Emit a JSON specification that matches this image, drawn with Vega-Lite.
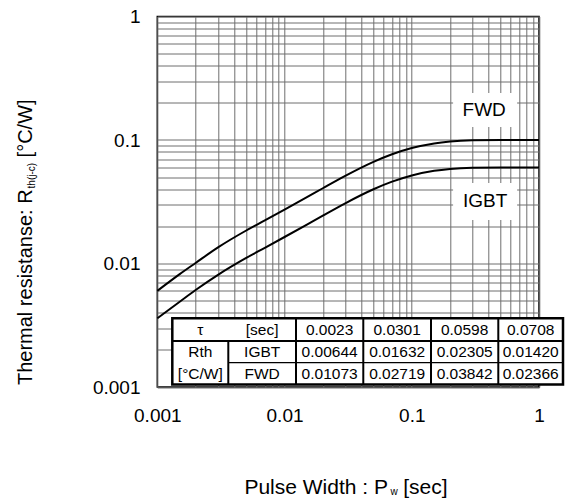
{
  "$schema": "https://vega.github.io/schema/vega-lite/v6.json",
  "width": 381.7,
  "height": 370.5,
  "autosize": {"type": "none"},
  "padding": {"left": 157.3, "top": 16.5, "right": 29, "bottom": 116},
  "background": "white",
  "config": {
    "font": "Liberation Sans",
    "view": {"stroke": "black", "strokeWidth": 1.5},
    "text": {"font": "Liberation Sans", "color": "black"}
  },
  "datasets": {
    "curves": [
      {"series": "IGBT", "x": 0.001, "y": 0.0036},
      {"series": "IGBT", "x": 0.0015, "y": 0.0049},
      {"series": "IGBT", "x": 0.002, "y": 0.0061},
      {"series": "IGBT", "x": 0.003, "y": 0.0081},
      {"series": "IGBT", "x": 0.005, "y": 0.0111},
      {"series": "IGBT", "x": 0.007, "y": 0.0134},
      {"series": "IGBT", "x": 0.01, "y": 0.01639},
      {"series": "IGBT", "x": 0.015, "y": 0.02066},
      {"series": "IGBT", "x": 0.02, "y": 0.02441},
      {"series": "IGBT", "x": 0.03, "y": 0.03073},
      {"series": "IGBT", "x": 0.05, "y": 0.03991},
      {"series": "IGBT", "x": 0.07, "y": 0.04598},
      {"series": "IGBT", "x": 0.1, "y": 0.05163},
      {"series": "IGBT", "x": 0.15, "y": 0.05631},
      {"series": "IGBT", "x": 0.2, "y": 0.05833},
      {"series": "IGBT", "x": 0.3, "y": 0.05965},
      {"series": "IGBT", "x": 0.5, "y": 0.06},
      {"series": "IGBT", "x": 0.7, "y": 0.06001},
      {"series": "IGBT", "x": 1, "y": 0.06001},
      {"series": "FWD", "x": 0.001, "y": 0.006},
      {"series": "FWD", "x": 0.0015, "y": 0.0082},
      {"series": "FWD", "x": 0.002, "y": 0.0101},
      {"series": "FWD", "x": 0.003, "y": 0.0135},
      {"series": "FWD", "x": 0.005, "y": 0.0185},
      {"series": "FWD", "x": 0.007, "y": 0.022332},
      {"series": "FWD", "x": 0.01, "y": 0.027313},
      {"series": "FWD", "x": 0.015, "y": 0.034423},
      {"series": "FWD", "x": 0.02, "y": 0.040675},
      {"series": "FWD", "x": 0.03, "y": 0.051212},
      {"series": "FWD", "x": 0.05, "y": 0.066508},
      {"series": "FWD", "x": 0.07, "y": 0.076619},
      {"series": "FWD", "x": 0.1, "y": 0.086037},
      {"series": "FWD", "x": 0.15, "y": 0.093838},
      {"series": "FWD", "x": 0.2, "y": 0.097204},
      {"series": "FWD", "x": 0.3, "y": 0.0994},
      {"series": "FWD", "x": 0.5, "y": 0.099974},
      {"series": "FWD", "x": 0.7, "y": 0.1},
      {"series": "FWD", "x": 1, "y": 0.1}
    ],
    "labelBoxes": [
      {"x": 0.2113, "x2": 0.673, "y": 0.2404, "y2": 0.1274},
      {"x": 0.2113, "x2": 0.673, "y": 0.04487, "y2": 0.0225}
    ],
    "labels": [
      {"x": 0.371, "y": 0.175, "t": "FWD"},
      {"x": 0.377, "y": 0.0321, "t": "IGBT"}
    ],
    "tableBox": [
      {"x": 0.001312, "x2": 1.544, "y": 0.001047, "y2": 0.003599}
    ],
    "thickLines": [
      {"x": 0.001312, "x2": 1.544, "y": 0.002358, "y2": 0.002358},
      {"x": 0.003614, "x2": 0.003614, "y": 0.001047, "y2": 0.002358},
      {"x": 0.01231, "x2": 0.01231, "y": 0.001047, "y2": 0.003599},
      {"x": 0.04159, "x2": 0.04159, "y": 0.001047, "y2": 0.003599},
      {"x": 0.1416, "x2": 0.1416, "y": 0.001047, "y2": 0.003599},
      {"x": 0.4787, "x2": 0.4787, "y": 0.001047, "y2": 0.003599}
    ],
    "thinLines": [
      {"x": 0.003614, "x2": 1.544, "y": 0.001573, "y2": 0.001573}
    ],
    "tableText": [
      {"x": 0.002178, "y": 0.002912, "t": "τ"},
      {"x": 0.006669, "y": 0.002912, "t": "[sec]"},
      {"x": 0.02262, "y": 0.002912, "t": "0.0023"},
      {"x": 0.07677, "y": 0.002912, "t": "0.0301"},
      {"x": 0.2604, "y": 0.002912, "t": "0.0598"},
      {"x": 0.8602, "y": 0.002912, "t": "0.0708"},
      {"x": 0.002178, "y": 0.001926, "t": "Rth"},
      {"x": 0.006669, "y": 0.001926, "t": "IGBT"},
      {"x": 0.02262, "y": 0.001926, "t": "0.00644"},
      {"x": 0.07677, "y": 0.001926, "t": "0.01632"},
      {"x": 0.2604, "y": 0.001926, "t": "0.02305"},
      {"x": 0.8602, "y": 0.001926, "t": "0.01420"},
      {"x": 0.002178, "y": 0.001284, "t": "[°C/W]"},
      {"x": 0.006669, "y": 0.001284, "t": "FWD"},
      {"x": 0.02262, "y": 0.001284, "t": "0.01073"},
      {"x": 0.07677, "y": 0.001284, "t": "0.02719"},
      {"x": 0.2604, "y": 0.001284, "t": "0.03842"},
      {"x": 0.8602, "y": 0.001284, "t": "0.02366"}
    ],
    "yTitle": [{"x": 0.0001036, "y": 0.0398}],
    "xTitle": [{"x": 0.06503, "y": 0.0001352}]
  },
  "encoding": {
    "x": {
      "field": "x", "type": "quantitative",
      "scale": {"type": "log", "domain": [0.001, 1], "nice": false, "zero": false},
      "axis": {
        "title": null,
        "values": [0.001,0.002,0.003,0.004,0.005,0.006,0.007,0.008,0.009,0.01,0.02,0.03,0.04,0.05,0.06,0.07,0.08,0.09,0.1,0.2,0.3,0.4,0.5,0.6,0.7,0.8,0.9,1],
        "format": "~g",
        "labelExpr": "(datum.value == 0.001 || datum.value == 0.01 || datum.value == 0.1 || datum.value == 1) ? datum.label : ''",
        "grid": true, "gridColor": "#6e6e6e", "gridWidth": 1, "gridOpacity": 1,
        "ticks": false, "tickSize": 0, "domain": false,
        "labelFont": "Liberation Sans", "labelFontSize": 19, "labelColor": "black",
        "labelPadding": 19.5, "labelFlush": false, "labelOverlap": false, "labelBound": false
      }
    },
    "y": {
      "field": "y", "type": "quantitative",
      "scale": {"type": "log", "domain": [0.001, 1], "nice": false, "zero": false},
      "axis": {
        "title": null,
        "values": [0.001,0.002,0.003,0.004,0.005,0.006,0.007,0.008,0.009,0.01,0.02,0.03,0.04,0.05,0.06,0.07,0.08,0.09,0.1,0.2,0.3,0.4,0.5,0.6,0.7,0.8,0.9,1],
        "format": "~g",
        "labelExpr": "(datum.value == 0.001 || datum.value == 0.01 || datum.value == 0.1 || datum.value == 1) ? datum.label : ''",
        "grid": true, "gridColor": "#6e6e6e", "gridWidth": 1, "gridOpacity": 1,
        "ticks": false, "tickSize": 0, "domain": false,
        "labelFont": "Liberation Sans", "labelFontSize": 19, "labelColor": "black",
        "labelPadding": 17.3, "labelFlush": false, "labelOverlap": false, "labelBound": false
      }
    }
  },
  "layer": [
    {
      "data": {"name": "curves"},
      "mark": {"type": "line", "color": "black", "strokeWidth": 2, "interpolate": "monotone"},
      "encoding": {"detail": {"field": "series"}}
    },
    {
      "data": {"name": "labelBoxes"},
      "mark": {"type": "rect", "fill": "white"},
      "encoding": {"x2": {"field": "x2"}, "y2": {"field": "y2"}}
    },
    {
      "data": {"name": "labels"},
      "mark": {"type": "text", "fontSize": 19, "align": "center", "baseline": "middle", "color": "black"},
      "encoding": {"text": {"field": "t"}}
    },
    {
      "data": {"name": "tableBox"},
      "mark": {"type": "rect", "fill": "white", "stroke": "black", "strokeWidth": 2.5, "clip": false},
      "encoding": {"x2": {"field": "x2"}, "y2": {"field": "y2"}}
    },
    {
      "data": {"name": "thickLines"},
      "mark": {"type": "rule", "color": "black", "strokeWidth": 2},
      "encoding": {"x2": {"field": "x2"}, "y2": {"field": "y2"}}
    },
    {
      "data": {"name": "thinLines"},
      "mark": {"type": "rule", "color": "black", "strokeWidth": 1.2},
      "encoding": {"x2": {"field": "x2"}, "y2": {"field": "y2"}}
    },
    {
      "data": {"name": "tableText"},
      "mark": {"type": "text", "fontSize": 15.5, "align": "center", "baseline": "middle", "color": "black"},
      "encoding": {"text": {"field": "t"}}
    },
    {
      "data": {"name": "yTitle"},
      "mark": {"type": "text", "text": "Thermal resistanse: R", "angle": 270, "fontSize": 20, "align": "right", "baseline": "alphabetic", "color": "black"}
    },
    {
      "data": {"name": "yTitle"},
      "mark": {"type": "text", "text": "th(j-c)", "angle": 270, "fontSize": 10, "align": "left", "baseline": "alphabetic", "dx": 1, "dy": 3, "color": "black"}
    },
    {
      "data": {"name": "yTitle"},
      "mark": {"type": "text", "text": "[°C/W]", "angle": 270, "fontSize": 20, "align": "left", "baseline": "alphabetic", "dx": 32, "color": "black"}
    },
    {
      "data": {"name": "xTitle"},
      "mark": {"type": "text", "text": "Pulse Width : P", "fontSize": 21, "align": "right", "baseline": "alphabetic", "color": "black"}
    },
    {
      "data": {"name": "xTitle"},
      "mark": {"type": "text", "text": "w", "fontSize": 10, "align": "left", "baseline": "alphabetic", "dx": 2.5, "dy": 1, "color": "black"}
    },
    {
      "data": {"name": "xTitle"},
      "mark": {"type": "text", "text": "[sec]", "fontSize": 21, "align": "left", "baseline": "alphabetic", "dx": 15.3, "color": "black"}
    }
  ]
}
